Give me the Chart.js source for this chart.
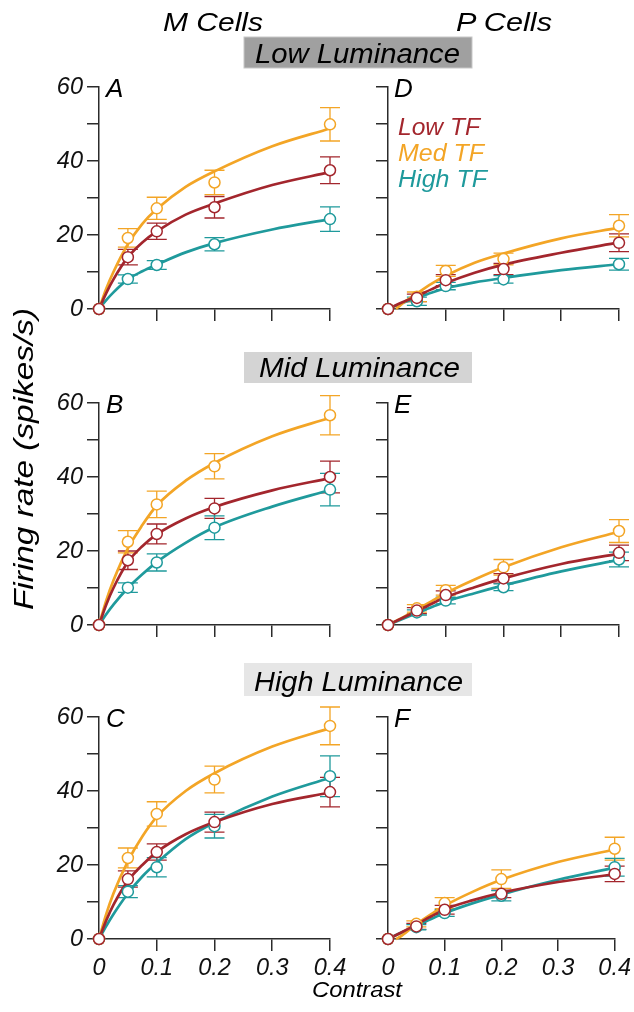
<!DOCTYPE html>
<html>
<head>
<meta charset="utf-8">
<script src="https://cdn.jsdelivr.net/npm/chart.js@4.4.1/dist/chart.umd.min.js"></script>
<style>
html, body { margin: 0; padding: 0; background: #fff; }
#wrap { position: relative; width: 634px; height: 1012px; overflow: hidden; }
#wrap canvas { position: absolute; }
#labels { position: absolute; left: 0; top: 0; }
#labels text { font-family: "Liberation Sans", Arial, sans-serif; font-style: italic; }
</style>
</head>
<body>
<div id="wrap">
  <canvas id="pA" width="330" height="297" style="left:20px;top:62px"></canvas>
  <canvas id="pD" width="284" height="297" style="left:350px;top:62px"></canvas>
  <canvas id="pB" width="330" height="297" style="left:20px;top:378px"></canvas>
  <canvas id="pE" width="284" height="297" style="left:350px;top:378px"></canvas>
  <canvas id="pC" width="330" height="297" style="left:20px;top:692px"></canvas>
  <canvas id="pF" width="284" height="297" style="left:350px;top:692px"></canvas>
  <svg id="labels" width="634" height="1012">
    <text x="163" y="31" font-size="25" textLength="100" lengthAdjust="spacingAndGlyphs">M Cells</text>
    <text x="456" y="31" font-size="25" textLength="96" lengthAdjust="spacingAndGlyphs">P Cells</text>

    <rect x="244" y="37" width="228" height="31" fill="#a0a0a0" stroke="#c8c8c8" stroke-width="1"></rect>
    <text x="255" y="63" font-size="27" textLength="205" lengthAdjust="spacingAndGlyphs">Low Luminance</text>
    <rect x="244" y="352" width="228" height="31" fill="#d4d4d4"></rect>
    <text x="259" y="377" font-size="27" textLength="201" lengthAdjust="spacingAndGlyphs">Mid Luminance</text>
    <rect x="244" y="663" width="228" height="33" fill="#e6e6e6"></rect>
    <text x="254" y="691" font-size="27" textLength="209" lengthAdjust="spacingAndGlyphs">High Luminance</text>

    <text x="106" y="97" font-size="26">A</text>
    <text x="394" y="97" font-size="26">D</text>
    <text x="106" y="413" font-size="26">B</text>
    <text x="394" y="413" font-size="26">E</text>
    <text x="106" y="727" font-size="26">C</text>
    <text x="394" y="727" font-size="26">F</text>

    <text x="398" y="135" font-size="23" fill="#a3262d" textLength="82" lengthAdjust="spacingAndGlyphs">Low TF</text>
    <text x="398" y="161" font-size="23" fill="#f3a526" textLength="86" lengthAdjust="spacingAndGlyphs">Med TF</text>
    <text x="398" y="187" font-size="23" fill="#1f9a9c" textLength="89" lengthAdjust="spacingAndGlyphs">High TF</text>

    <text x="312" y="997" font-size="22" textLength="90" lengthAdjust="spacingAndGlyphs">Contrast</text>
    <text transform="translate(33,459) rotate(-90)" x="0" y="0" text-anchor="middle" font-size="28" textLength="302" lengthAdjust="spacingAndGlyphs">Firing rate (spikes/s)</text>
  </svg>
</div>

<script>
// stimulus contrasts where rates were measured
const contrast = [0, 0.05, 0.1, 0.2, 0.4];
// x positions
const fitXM = [0, 0.0125, 0.025, 0.05, 0.075, 0.1, 0.15, 0.2, 0.3, 0.4];
const fitXP = [0, 0.025, 0.05, 0.075, 0.1, 0.15, 0.2, 0.3, 0.4];
const fitXPLate = [0.014, 0.025, 0.05, 0.075, 0.1, 0.15, 0.2, 0.3, 0.4];

const RED = '#a3262d';
const ORANGE = '#f3a526';
const TEAL = '#1f9a9c';

// A: M cells, low luminance
const aLowMean = [0, 14, 21, 27.5, 37.5];
const aLowErr  = [0, 2.1, 2.2, 2.9, 3.6];
const aLowFit  = [0, 4.3, 8, 14, 18, 21, 25.5, 28.5, 33.5, 37];
const aMedMean = [0, 19.2, 27.2, 34.2, 49.9];
const aMedErr  = [0, 2.5, 3.0, 3.3, 4.5];
const aMedFit  = [0, 5.5, 10, 17.5, 23, 27, 33, 37.2, 44, 48.8];
const aHighMean = [0, 8.1, 11.9, 17.5, 24.3];
const aHighErr  = [0, 1.1, 1.2, 1.8, 3.3];
const aHighFit  = [0, 2.4, 4.5, 8, 10.2, 12, 15.3, 17.8, 21.5, 24.3];

// D: P cells, low luminance
const dLowMean = [0, 3, 7.8, 10.8, 17.9];
const dLowErr  = [0, 1.0, 1.5, 1.5, 2.4];
const dLowFit  = [0, 1.8, 3.5, 5.3, 7, 9.8, 12, 15.2, 18];
const dMedMean = [0, 3.3, 10.3, 13.5, 22.5];
const dMedErr  = [0, 1.3, 1.5, 1.6, 3.0];
const dMedFit  = [0, 1.5, 4.2, 6.8, 9, 12.5, 15, 19.1, 22];
const dHighMean = [0, 2.1, 6.2, 8.0, 12.1];
const dHighErr  = [0, 1.1, 1.0, 1.0, 1.6];
const dHighFit  = [0, 1.6, 3, 4.4, 5.6, 7.2, 8.4, 10.5, 12.1];

// B: M cells, mid luminance
const bLowMean = [0, 17.5, 24.6, 31.5, 40.0];
const bLowErr  = [0, 2.5, 2.7, 2.7, 4.3];
const bLowFit  = [0, 5.5, 10, 17, 21.3, 24.5, 28.8, 31.9, 36.4, 39.7];
const bMedMean = [0, 22.5, 32.6, 42.9, 56.7];
const bMedErr  = [0, 3.0, 3.6, 3.4, 5.3];
const bMedFit  = [0, 6.6, 12, 20.7, 27, 32.3, 39, 43.8, 51, 56];
const bHighMean = [0, 10.1, 16.9, 26.3, 36.6];
const bHighErr  = [0, 1.3, 2.3, 3.2, 4.4];
const bHighFit  = [0, 2.9, 5.5, 10, 13.7, 17, 22.2, 26.4, 32, 36.5];

// E: P cells, mid luminance
const eLowMean = [0, 3.9, 8.1, 12.6, 19.5];
const eLowErr  = [0, 0.8, 1.1, 1.3, 2.1];
const eLowFit  = [0, 1.9, 3.8, 5.7, 7.5, 10.2, 12.6, 16.5, 19.3];
const eMedMean = [0, 4.5, 9.4, 15.6, 25.4];
const eMedErr  = [0, 1.0, 1.3, 2.1, 3.1];
const eMedFit  = [0, 2, 4.2, 6.4, 8.6, 12.3, 15.6, 21, 25.2];
const eHighMean = [0, 3.4, 6.6, 10.2, 17.7];
const eHighErr  = [0, 0.7, 0.9, 0.9, 2.0];
const eHighFit  = [0, 1.6, 3.2, 4.8, 6.3, 8.6, 10.7, 14.5, 17.6];

// C: M cells, high luminance
const cLowMean = [0, 16.2, 23.5, 31.6, 39.7];
const cLowErr  = [0, 2.2, 2.2, 2.7, 4.0];
const cLowFit  = [0, 5, 9.2, 15.7, 20, 23.5, 28.3, 31.6, 36.5, 39.6];
const cMedMean = [0, 21.9, 33.8, 43.1, 57.6];
const cMedErr  = [0, 2.7, 3.3, 3.6, 5.1];
const cMedFit  = [0, 6.7, 12.3, 21, 27.7, 33, 40, 44.8, 52, 57];
const cHighMean = [0, 12.8, 19.4, 30.5, 44.0];
const cHighErr  = [0, 1.6, 2.6, 3.2, 5.5];
const cHighFit  = [0, 3.5, 6.7, 12.3, 16.9, 20.6, 27, 31.5, 38.5, 43.6];

// F: P cells, high luminance
const fLowMean = [0, 3.4, 7.9, 12.2, 17.6];
const fLowErr  = [0, 0.8, 1.2, 1.0, 2.1];
const fLowFit  = [0, 1.9, 3.9, 6, 8, 10.5, 12.5, 15.4, 17.5];
const fMedMean = [0, 4.1, 9.7, 16.2, 24.4];
const fMedErr  = [0, 0.8, 1.5, 2.5, 3.1];
const fMedFit  = [0, 1.0, 4, 6.6, 9, 12.8, 16, 20.8, 24.2];
const fHighMean = [0, 3.2, 7.0, 11.7, 19.4];
const fHighErr  = [0, 0.7, 0.9, 1.4, 2.4];
const fHighFit  = [0, 1.8, 3.5, 5.3, 7, 9.7, 12, 16, 19.3];

const AXIS = '#2b2b2b';
const TICK_FONT = { family: '"Liberation Sans", Arial, sans-serif', size: 23.5, style: 'italic' };

// vertical error bars with caps, drawn under the markers
const errorBars = {
    id: 'errorBars',
    beforeDatasetsDraw(chart) {
        var ctx = chart.ctx;
        var xs = chart.scales.x, ys = chart.scales.y;
        chart.data.datasets.forEach(function (ds) {
            if (!ds.errors) return;
            ctx.save();
            ctx.strokeStyle = ds.borderColor;
            ctx.lineWidth = 1.3;
            ds.data.forEach(function (p, i) {
                var e = ds.errors[i];
                if (!e) return;
                var x = xs.getPixelForValue(p.x);
                var lo = ys.getPixelForValue(p.y - e);
                var hi = ys.getPixelForValue(p.y + e);
                ctx.beginPath();
                ctx.moveTo(x, lo); ctx.lineTo(x, hi);
                ctx.moveTo(x - 10, lo); ctx.lineTo(x + 10, lo);
                ctx.moveTo(x - 10, hi); ctx.lineTo(x + 10, hi);
                ctx.stroke();
            });
            ctx.restore();
        });
    }
};

function seriesSets(color, mean, err, fitX, fit) {
    return [
        {
            type: 'line',
            data: fitX.map(function (x, i) { return { x: x, y: fit[i] }; }),
            borderColor: color,
            borderWidth: 2.7,
            pointRadius: 0,
            cubicInterpolationMode: 'monotone',
            fill: false,
            clip: false,
            order: 2
        },
        {
            type: 'scatter',
            data: contrast.map(function (x, i) { return { x: x, y: mean[i] }; }),
            errors: err,
            borderColor: color,
            backgroundColor: '#fff',
            pointRadius: 5.5,
            pointBorderWidth: 1.5,
            clip: false,
            order: 1
        }
    ];
}

function makePanel(id, isLeft, showX, series) {
    var yWidth = isLeft ? 79 : 38;
    var padRight = isLeft ? 20 : 15;
    var datasets = [];
    series.forEach(function (s) { datasets = datasets.concat(seriesSets.apply(null, s)); });

    new Chart(document.getElementById(id), {
        data: { datasets: datasets },
        options: {
            responsive: false,
            animation: false,
            events: [],
            layout: { padding: { top: 25, right: padRight, left: 0, bottom: 0 } },
            plugins: { legend: { display: false }, tooltip: { enabled: false } },
            scales: {
                x: {
                    type: 'linear',
                    min: 0,
                    max: 0.4,
                    border: { display: true, color: AXIS, width: 1.5 },
                    grid: {
                        drawOnChartArea: false,
                        drawTicks: true,
                        tickLength: 12,
                        lineWidth: 1.5,
                        color: function (c) { return c.tick && c.tick.value === 0 ? 'rgba(0,0,0,0)' : AXIS; }
                    },
                    ticks: {
                        stepSize: 0.1,
                        autoSkip: false,
                        maxRotation: 0,
                        padding: 3,
                        color: '#111',
                        font: TICK_FONT,
                        callback: function (v) { return showX ? String(Math.round(v * 10) / 10) : ''; }
                    },
                    afterFit: function (s) { s.height = 50; }
                },
                y: {
                    type: 'linear',
                    min: 0,
                    max: 60,
                    border: { display: true, color: AXIS, width: 1.5 },
                    grid: { drawOnChartArea: false, drawTicks: true, tickLength: 12, lineWidth: 1.5, color: AXIS },
                    ticks: {
                        stepSize: 10,
                        autoSkip: false,
                        padding: 4,
                        color: '#111',
                        font: TICK_FONT,
                        callback: function (v) { return isLeft && v % 20 === 0 ? String(v) : ''; }
                    },
                    afterFit: function (s) { s.width = yWidth; }
                }
            }
        },
        plugins: [errorBars]
    });
}

makePanel('pA', true, false, [
    [RED, aLowMean, aLowErr, fitXM, aLowFit],
    [ORANGE, aMedMean, aMedErr, fitXM, aMedFit],
    [TEAL, aHighMean, aHighErr, fitXM, aHighFit]
]);
makePanel('pD', false, false, [
    [RED, dLowMean, dLowErr, fitXP, dLowFit],
    [ORANGE, dMedMean, dMedErr, fitXPLate, dMedFit],
    [TEAL, dHighMean, dHighErr, fitXP, dHighFit]
]);
makePanel('pB', true, false, [
    [RED, bLowMean, bLowErr, fitXM, bLowFit],
    [ORANGE, bMedMean, bMedErr, fitXM, bMedFit],
    [TEAL, bHighMean, bHighErr, fitXM, bHighFit]
]);
makePanel('pE', false, false, [
    [RED, eLowMean, eLowErr, fitXP, eLowFit],
    [ORANGE, eMedMean, eMedErr, fitXP, eMedFit],
    [TEAL, eHighMean, eHighErr, fitXP, eHighFit]
]);
makePanel('pC', true, true, [
    [RED, cLowMean, cLowErr, fitXM, cLowFit],
    [ORANGE, cMedMean, cMedErr, fitXM, cMedFit],
    [TEAL, cHighMean, cHighErr, fitXM, cHighFit]
]);
makePanel('pF', false, true, [
    [RED, fLowMean, fLowErr, fitXP, fLowFit],
    [ORANGE, fMedMean, fMedErr, fitXPLate, fMedFit],
    [TEAL, fHighMean, fHighErr, fitXP, fHighFit]
]);
</script>
</body>
</html>
